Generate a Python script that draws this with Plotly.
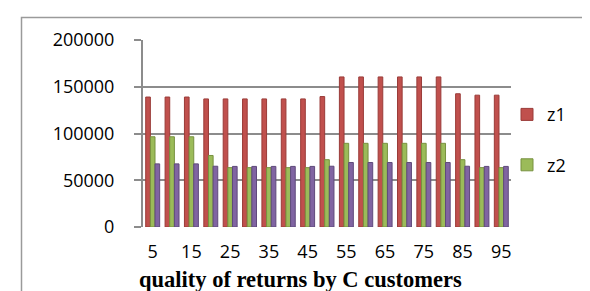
import plotly.graph_objects as go

categories = [5, 10, 15, 20, 25, 30, 35, 40, 45, 50, 55, 60, 65, 70, 75, 80, 85, 90, 95]
z1 = [139000, 139000, 139000, 137000, 137000, 137000, 137000, 137000, 137000, 139500,
      160500, 160500, 160500, 160500, 160500, 160500, 142500, 141000, 141000]
z2 = [96500, 96500, 96500, 76500, 63500, 63500, 63500, 63500, 63500, 72000,
      89500, 89500, 89500, 89500, 89500, 89500, 72000, 63500, 63500]
z3 = [67500, 67500, 67500, 65000, 64800, 64800, 64800, 64800, 64800, 65000,
      69000, 69000, 69000, 69000, 69000, 69000, 65000, 64800, 64800]
tick_vals = [5, 15, 25, 35, 45, 55, 65, 75, 85, 95]
y_ticks = [0, 50000, 100000, 150000, 200000]
x_title = "quality of returns by C customers"

W, H = 590, 291
L, R, T, B = 135, 87, 31.5, 71.5
pw, ph = W - L - R, H - T - B

def px2x(p):
    return (p - L) / pw

def py2y(p):
    return (H - B - p) / ph

fig = go.Figure()
fig.add_trace(go.Bar(x=categories, y=z1, name="z1", legendgroup="a",
                     marker=dict(color="#C0504D", line=dict(color="#9A3B38", width=1))))
fig.add_trace(go.Bar(x=categories, y=z2, name="z2", legendgroup="b",
                     marker=dict(color="#9BBB59", line=dict(color="#77913F", width=1))))
fig.add_trace(go.Bar(x=categories, y=z3, name="z3", showlegend=False,
                     marker=dict(color="#8064A2", line=dict(color="#5F4A7B", width=1))))

font = "Open Sans, Liberation Sans, sans-serif"
fig.update_layout(
    width=W, height=H,
    margin=dict(l=L, r=R, t=T, b=B, pad=0),
    paper_bgcolor="white", plot_bgcolor="white",
    barmode="group", bargap=0.28, bargroupgap=0,
    font=dict(family=font, size=18, color="black"),
    showlegend=True,
    legend=dict(x=px2x(499), y=py2y(88), xanchor="left", yanchor="top",
                font=dict(size=18), tracegroupgap=24, bgcolor="rgba(0,0,0,0)",
                itemclick=False),
    xaxis=dict(range=[2.5, 97.5], tickvals=tick_vals, ticktext=[str(v) for v in tick_vals],
               showgrid=False, zeroline=False, showline=False, ticks="",
               ticklabelstandoff=12),
    yaxis=dict(range=[0, 200000], tickvals=y_ticks, ticktext=[str(v) for v in y_ticks],
               showgrid=True, gridcolor="#8C8C8C", gridwidth=2, zeroline=False,
               showline=True, linecolor="#8C8C8C", linewidth=2,
               ticks="outside", ticklen=7, tickcolor="#8C8C8C", tickwidth=2,
               ticklabelstandoff=16),
    annotations=[dict(text="<b>" + x_title + "</b>", xref="paper", yref="paper",
                      x=px2x(300), y=py2y(291), xanchor="center", yanchor="bottom",
                      showarrow=False, yshift=4, xshift=-8,
                      font=dict(family="Liberation Serif, serif", size=22.5, color="black"))],
    shapes=[dict(type="rect", xref="paper", yref="paper",
                 x0=px2x(13.5), x1=px2x(588), y0=py2y(300), y1=py2y(9),
                 line=dict(color="#9A9A9A", width=1.5), fillcolor="rgba(0,0,0,0)",
                 layer="below")],
)

fig.write_html("out.html")
